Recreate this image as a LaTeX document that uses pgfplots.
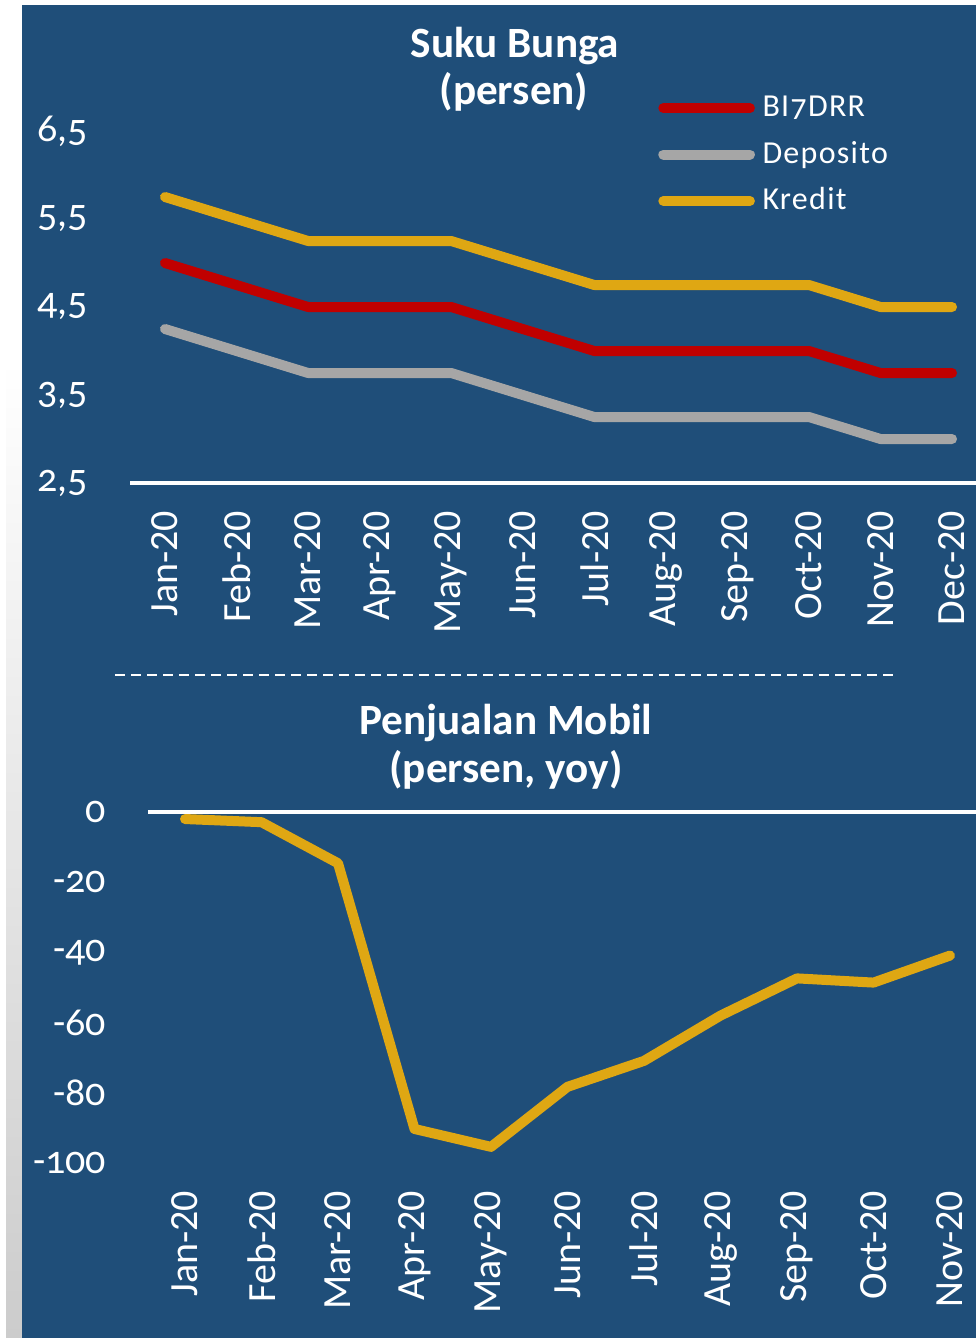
\documentclass[border=0pt]{standalone}
\usepackage{pgfplots}
\pgfplotsset{compat=1.18}
\usepackage{fontspec}
\setmainfont{Carlito}[Numbers=OldStyle]
\newfontfamily\linfont{Carlito}[Numbers=Lining]
\newfontfamily\legfont{Carlito}[Numbers=OldStyle, LetterSpace=4]
\definecolor{bg}{HTML}{1F4E79}
\definecolor{cred}{HTML}{C00000}
\definecolor{cgray}{HTML}{A6A6A6}
\definecolor{cgold}{HTML}{DFA713}

\pgfplotstableread{
x bi dep kre
0 5.00 4.25 5.75
1 4.75 4.00 5.50
2 4.50 3.75 5.25
3 4.50 3.75 5.25
4 4.50 3.75 5.25
5 4.25 3.50 5.00
6 4.00 3.25 4.75
7 4.00 3.25 4.75
8 4.00 3.25 4.75
9 4.00 3.25 4.75
10 3.75 3.00 4.50
11 3.75 3.00 4.50
}\rates

\pgfplotstableread{
x mobil
0 -2.0
1 -2.9
2 -14.6
3 -90.3
4 -95.4
5 -78.3
6 -70.9
7 -58.0
8 -47.4
9 -48.6
10 -40.9
}\mobil

\pgfplotsset{
  mystyle/.style={
    scale only axis, clip=false,
    axis line style={draw=none}, major tick length=0pt,
    tick style={draw=none},
    yticklabel style={font=\fontsize{10}{12}\selectfont, text=white, anchor=east, inner sep=0pt, xshift=-10.25pt},
    xticklabel style={font=\linfont\fontsize{10}{12}\selectfont, text=white, yshift=-6.75pt, rotate=90, anchor=east, inner sep=0pt},
  },
  myline/.style={line width=2.5pt, line cap=round, line join=round},
}

\begin{document}
\begin{tikzpicture}
\fill[white] (0,0) rectangle (244pt,-334.5pt);
\shade[top color=white, bottom color=black!20] (1.5pt,-90pt) rectangle (5.5pt,-334.5pt);
\fill[bg] (5.5pt,-1.25pt) rectangle (244pt,-334.5pt);

\begin{axis}[mystyle,
  width=211.5pt, height=88pt,
  at={(32.5pt,-120.75pt)}, anchor=south west,
  xmin=-0.489, xmax=11.335, ymin=2.5, ymax=6.5,
  xtick={0,...,11},
  xticklabels={Jan-20,Feb-20,Mar-20,Apr-20,May-20,Jun-20,Jul-20,Aug-20,Sep-20,Oct-20,Nov-20,Dec-20},
  ytick={2.5,3.5,4.5,5.5,6.5},
  yticklabels={{2,5},{3,5},{4,5},{5,5},{6,5}},
  legend style={at={(axis description cs:0.6245,1.108)}, anchor=north west,
    draw=none, fill=none, inner sep=0pt, outer sep=0pt,
    font=\legfont\fontsize{8}{9}\selectfont, text=white,
    nodes={inner sep=0pt, text height=6pt, text depth=2pt},
    row sep=3.6pt, column sep=1.9pt},
  legend cell align=left,
  legend image code/.code={\draw[line width=2.5pt, line cap=round, #1] (1.25pt,0.2pt) -- (22.9pt,0.2pt);},
]
\draw[white, line width=0.85pt] (rel axis cs:0,0) -- (rel axis cs:1,0);
\addplot[myline, cred] table[x=x, y=bi] {\rates};
\addlegendentry{BI7DRR}
\addplot[myline, cgray] table[x=x, y=dep] {\rates};
\addlegendentry{Deposito}
\addplot[myline, cgold] table[x=x, y=kre] {\rates};
\addlegendentry{Kredit}
\end{axis}

\draw[white, line width=0.5pt, dash pattern=on 2.4pt off 1.6pt] (28.75pt,-168.75pt) -- (224.25pt,-168.75pt);

\node[anchor=base, text=white, font=\bfseries\fontsize{10.8}{13}\selectfont] at (128.75pt,-14.25pt) {Suku Bunga};
\node[anchor=base, text=white, font=\bfseries\fontsize{10.8}{13}\selectfont] at (128.5pt,-26pt) {(persen)};
\node[anchor=base, text=white, font=\bfseries\fontsize{10.8}{13}\selectfont] at (126.5pt,-183.5pt) {Penjualan Mobil};
\node[anchor=base, text=white, font=\bfseries\fontsize{10.8}{13}\selectfont] at (126.5pt,-195.5pt) {(persen, yoy)};

\begin{axis}[mystyle,
  width=207pt, height=87.75pt,
  at={(37pt,-290.75pt)}, anchor=south west,
  xmin=-0.484, xmax=10.34, ymin=-100, ymax=0,
  xtick={0,...,10},
  xticklabels={Jan-20,Feb-20,Mar-20,Apr-20,May-20,Jun-20,Jul-20,Aug-20,Sep-20,Oct-20,Nov-20},
  ytick={-100,-80,-60,-40,-20,0},
  yticklabels={-100,-80,-60,-40,-20,0},
]
\draw[white, line width=0.85pt] (rel axis cs:0,1) -- (rel axis cs:1,1);
\addplot[myline, cgold] table[x=x, y=mobil] {\mobil};
\end{axis}
\end{tikzpicture}
\end{document}
